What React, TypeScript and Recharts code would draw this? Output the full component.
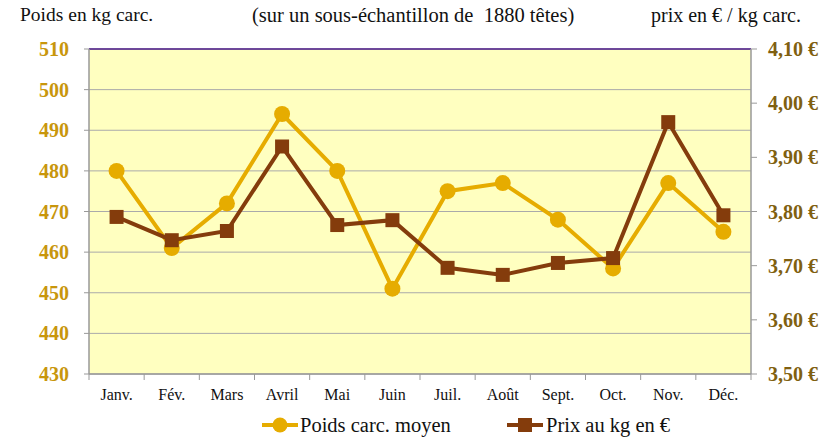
import { LineChart, Line, XAxis, YAxis, CartesianGrid, ReferenceLine, Legend } from 'recharts';

const months = ['Janv.', 'Fév.', 'Mars', 'Avril', 'Mai', 'Juin', 'Juil.', 'Août', 'Sept.', 'Oct.', 'Nov.', 'Déc.'];
const poids = [480, 461, 472, 494, 480, 451, 475, 477, 468, 456, 477, 465];
const prix = [3.79, 3.747, 3.764, 3.92, 3.775, 3.784, 3.696, 3.683, 3.705, 3.714, 3.965, 3.793];
const poidsTicks = [430, 440, 450, 460, 470, 480, 490, 500, 510];
const prixTicks = [3.5, 3.6, 3.7, 3.8, 3.9, 4.0, 4.1];

const data = months.map((m, i) => ({ month: m, poids: poids[i], prix: prix[i] }));

const SERIF = 'Liberation Serif';
const GOLD = '#E6AC00';
const BROWN = '#843C0C';
const W = 831;
const H = 441;
const M = { top: 49, right: 0, left: 0, bottom: 0 };
const BAND = (W - 89 - 80) / months.length;

const SquareDot = (props: any) => {
  const { cx, cy } = props;
  if (cx == null || cy == null) return null;
  return <rect x={cx - 7} y={cy - 7} width={14} height={14} fill={BROWN} />;
};

const MonthTick = (props: any) => {
  const { x, y, payload, index } = props;
  return (
    <g>
      <line x1={x - BAND / 2} x2={x - BAND / 2} y1={y - 8} y2={y - 2} stroke="#999" />
      {index === months.length - 1 && (
        <line x1={x + BAND / 2} x2={x + BAND / 2} y1={y - 8} y2={y - 2} stroke="#999" />
      )}
      <text x={x} y={y + 18} textAnchor="middle" fontFamily={SERIF} fontSize={16} fill="#111">
        {payload.value}
      </text>
    </g>
  );
};

const LegendContent = () => (
  <svg width={W} height={30} style={{ display: 'block' }}>
    <line x1={262} x2={298} y1={14} y2={14} stroke={GOLD} strokeWidth={4} />
    <circle cx={280} cy={14} r={7.5} fill={GOLD} />
    <text x={300} y={21} fontFamily={SERIF} fontSize={20.5} fill="#111">Poids carc. moyen</text>
    <line x1={507} x2={543} y1={14} y2={14} stroke={BROWN} strokeWidth={4} />
    <rect x={518} y={7} width={14} height={14} fill={BROWN} />
    <text x={546} y={21} fontFamily={SERIF} fontSize={20.5} fill="#111">Prix au kg en €</text>
  </svg>
);

const headerStyle: React.CSSProperties = {
  position: 'absolute',
  top: 4,
  fontFamily: SERIF,
  fontSize: 20,
  color: '#111',
  whiteSpace: 'pre',
  zIndex: 2,
};

export default function App() {
  return (
    <div style={{ position: 'absolute', left: 0, top: 0, width: W, height: H, background: '#fff' }}>
      <div style={{ ...headerStyle, left: 20, fontSize: 19.5 }}>Poids en kg carc.</div>
      <div style={{ ...headerStyle, left: 252, fontSize: 20.5 }}>(sur un sous-échantillon de  1880 têtes)</div>
      <div style={{ ...headerStyle, left: 651 }}>prix en € / kg carc.</div>
      <LineChart width={W} height={H} data={data} margin={M} style={{ position: 'absolute', left: 0, top: 0 }}>
        <CartesianGrid yAxisId="left" vertical={false} stroke="#aaa" fill="#FFFFC0" />
        <XAxis
          dataKey="month"
          height={37}
          padding={{ left: BAND / 2, right: BAND / 2 }}
          tickLine={false}
          axisLine={{ stroke: '#999', strokeWidth: 1.5 }}
          tick={<MonthTick />}
          interval={0}
        />
        <YAxis
          yAxisId="left"
          width={89}
          domain={[430, 510]}
          ticks={poidsTicks}
          interval={0}
          tickSize={5}
          tickMargin={15}
          axisLine={{ stroke: '#999', strokeWidth: 1.5 }}
          tickLine={{ stroke: '#999' }}
          tick={{ fontFamily: SERIF, fontSize: 20, fontWeight: 'bold', fill: '#C8960C' }}
        />
        <YAxis
          yAxisId="right"
          orientation="right"
          width={80}
          domain={[3.5, 4.1]}
          ticks={prixTicks}
          interval={0}
          tickSize={6}
          tickMargin={11}
          axisLine={{ stroke: '#999', strokeWidth: 1.5 }}
          tickLine={{ stroke: '#999' }}
          tickFormatter={(v: number) => v.toFixed(2).replace('.', ',') + ' €'}
          tick={{ fontFamily: SERIF, fontSize: 20, fontWeight: 'bold', fill: '#806010', textAnchor: 'start' }}
        />
        <ReferenceLine yAxisId="left" y={510} stroke="#4B1A8A" strokeWidth={1.5} />
        <Legend verticalAlign="bottom" height={30} content={<LegendContent />} />
        <Line
          yAxisId="left"
          dataKey="poids"
          stroke={GOLD}
          strokeWidth={4}
          dot={{ r: 8, fill: GOLD, stroke: 'none' }}
          isAnimationActive={false}
        />
        <Line
          yAxisId="right"
          dataKey="prix"
          stroke={BROWN}
          strokeWidth={4}
          dot={<SquareDot />}
          isAnimationActive={false}
        />
      </LineChart>
    </div>
  );
}
